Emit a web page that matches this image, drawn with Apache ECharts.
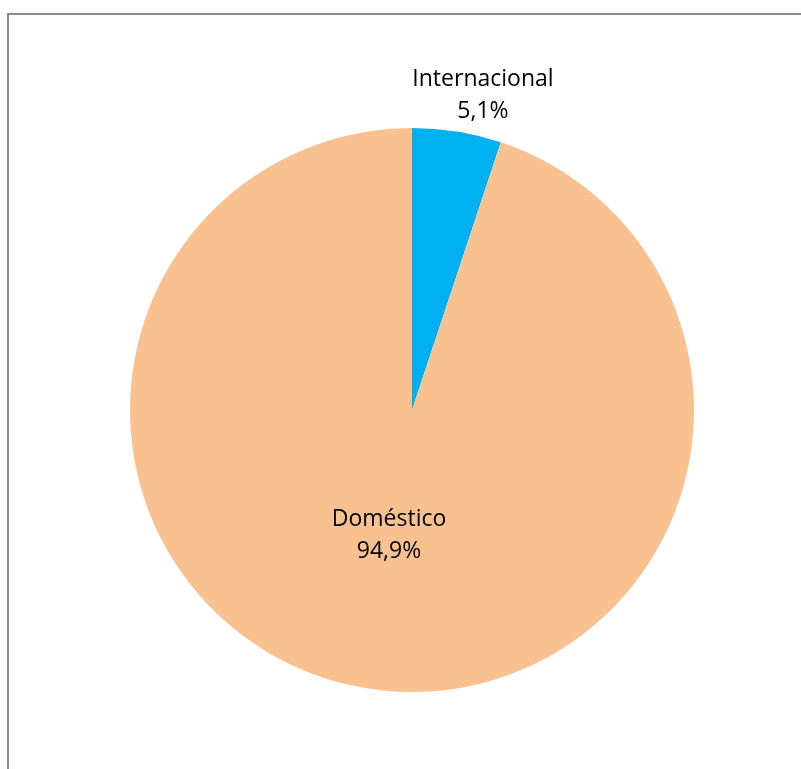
<!DOCTYPE html>
<html>
<head>
<meta charset="utf-8">
<script src="https://cdn.jsdelivr.net/npm/echarts@6/dist/echarts.min.js"></script>
<style>
  html, body { margin: 0; padding: 0; background: #fff; }
  #chart { width: 801px; height: 769px; }
</style>
</head>
<body>
<div id="chart"></div>
<script>
// datos del grafico
var categorias = ['Internacional', 'Doméstico'];
var valores = [5.1, 94.9];
var colores = ['#00B0F0', '#F9C090'];

// posicion de cada etiqueta (relativa a la posicion "inside")
var desplaz = [[48, -172], [0, -17]];

var myChart = echarts.init(document.getElementById('chart'));

var datos = [];
for (var i = 0; i < categorias.length; i++) {
  datos.push({
    name: categorias[i],
    value: valores[i],
    itemStyle: { color: colores[i] },
    label: { offset: desplaz[i] }
  });
}

var option = {
  backgroundColor: '#fff',
  animation: false,
  graphic: [{
    type: 'rect',
    shape: { x: 8, y: 14, width: 900, height: 900 },
    style: { fill: 'none', stroke: '#8c8c8c', lineWidth: 2 }
  }],
  series: [{
    type: 'pie',
    center: [412, 410],
    radius: 282,
    startAngle: 90,
    clockwise: true,
    itemStyle: { borderWidth: 0 },
    label: {
      show: true,
      position: 'inside',
      fontFamily: 'Open Sans',
      fontSize: 23,
      lineHeight: 32,
      color: '#000',
      formatter: function (p) {
        return p.name + '\n' + p.value.toFixed(1).replace('.', ',') + '%';
      }
    },
    labelLine: { show: false },
    emphasis: { disabled: true },
    data: datos
  }]
};

myChart.setOption(option);
</script>
</body>
</html>
